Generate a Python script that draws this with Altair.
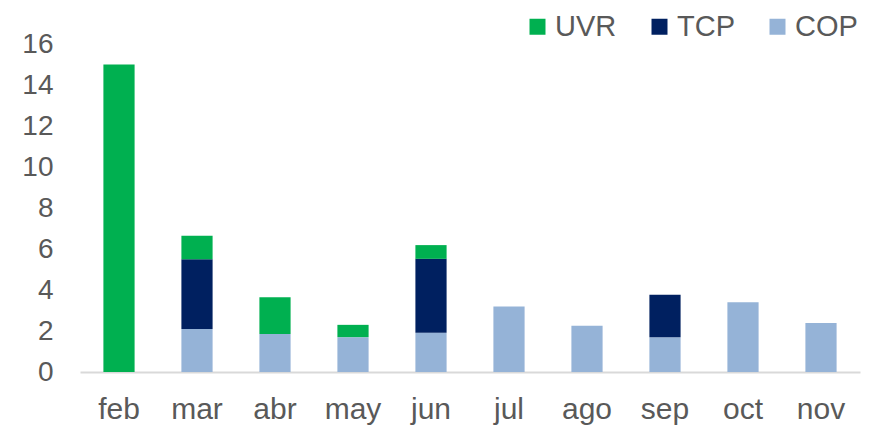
import altair as alt
import pandas as pd

months = ["feb", "mar", "abr", "may", "jun", "jul", "ago", "sep", "oct", "nov"]
cop = [0.0, 2.1, 1.85, 1.7, 1.92, 3.2, 2.26, 1.69, 3.4, 2.39]
tcp = [0.0, 3.4, 0.0, 0.0, 3.6, 0.0, 0.0, 2.08, 0.0, 0.0]
uvr = [15.0, 1.15, 1.8, 0.6, 0.67, 0.0, 0.0, 0.0, 0.0, 0.0]

series = ["UVR", "TCP", "COP"]
colors = ["#00B050", "#002060", "#95B3D7"]
stack_rank = {"COP": 0, "TCP": 1, "UVR": 2}

rows = []
for name, vals in (("COP", cop), ("TCP", tcp), ("UVR", uvr)):
    for m, v in zip(months, vals):
        if v > 0:
            rows.append({"mes": m, "serie": name, "valor": v, "rank": stack_rank[name]})
df = pd.DataFrame(rows)

font = "Liberation Sans"
grey = "#595959"

chart = alt.Chart(df).mark_bar().encode(
    x=alt.X("mes:N", sort=months, title=None,
            scale=alt.Scale(paddingInner=0.6, paddingOuter=0.3),
            axis=alt.Axis(labelAngle=0, ticks=False, domainColor="#D9D9D9", domainWidth=2,
                          labelFontSize=30, labelColor=grey, labelFont=font, labelPadding=22,
                          grid=False)),
    y=alt.Y("valor:Q", stack="zero", title=None,
            scale=alt.Scale(domain=[0, 16], nice=False),
            axis=alt.Axis(values=[0, 2, 4, 6, 8, 10, 12, 14, 16], ticks=False, domain=False,
                          grid=False, labelFontSize=28, labelColor=grey, labelFont=font,
                          labelPadding=27)),
    color=alt.Color("serie:N", scale=alt.Scale(domain=series, range=colors),
                    legend=alt.Legend(title=None, orient="none", direction="horizontal",
                                      legendX=443, legendY=-32, symbolType="square",
                                      symbolSize=256, symbolStrokeWidth=0, labelFontSize=29,
                                      labelColor=grey, labelFont=font, labelOffset=3,
                                      columnPadding=28, padding=0)),
    order=alt.Order("rank:Q"),
).properties(
    width=780, height=328,
    autosize=alt.AutoSizeParams(type="none"),
    padding={"left": 72, "top": 36, "right": 15, "bottom": 58},
).configure_view(stroke=None)

chart.save("out.html", embed_options={"renderer": "svg", "actions": False})
